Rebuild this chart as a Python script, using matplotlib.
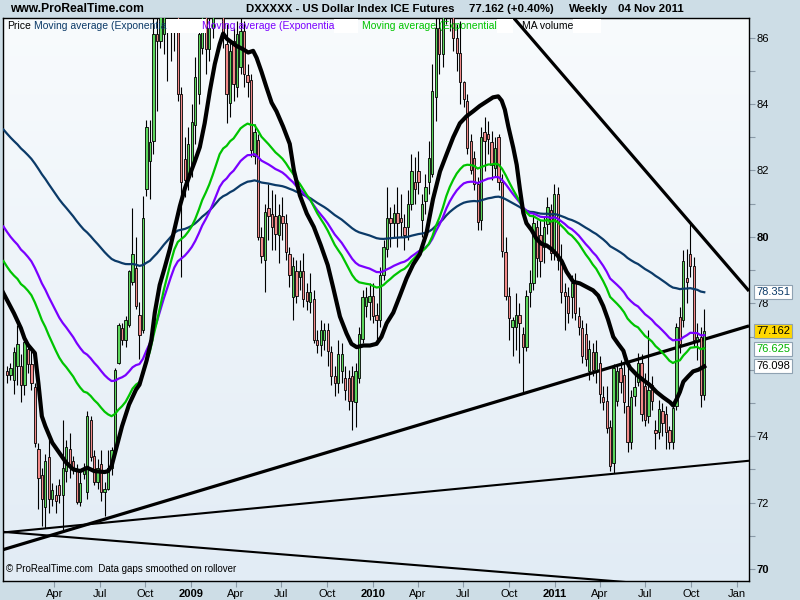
import numpy as np
import pandas as pd
import matplotlib
matplotlib.use("Agg")
import matplotlib.pyplot as plt
import matplotlib.dates as mdates
from matplotlib.colors import LinearSegmentedColormap
from matplotlib.patches import Rectangle
from matplotlib.transforms import blended_transform_factory

plt.rcParams['font.family'] = ['Liberation Sans', 'DejaVu Sans']

# weekly candles, first one dated 28 Dec 2007
opens = [75.95, 75.85, 75.69, 76.11, 76.11, 75.54, 76.63, 76.16, 75.49, 73.62,
         72.84, 71.86, 73.36, 72.12, 72.22, 72.53, 72.22, 72.95, 73.62, 73.26,
         72.95, 72.01, 72.85, 72.32, 74.50, 73.41, 72.63, 73.15, 72.32, 72.42,
         73.05, 73.57, 76.21, 77.25, 76.89, 77.35, 78.65, 79.06, 77.66, 77.20,
         81.45, 82.28, 82.90, 86.10, 85.90, 86.10, 87.80, 87.00, 87.40, 87.30,
         84.30, 82.33, 81.86, 82.17, 83.37, 84.30, 85.70, 86.90, 85.65, 86.30,
         87.50, 88.30, 88.50, 85.80, 84.04, 85.90, 84.50, 85.10, 86.20, 84.87,
         84.73, 82.42, 82.92, 80.01, 79.31, 80.88, 80.70, 80.62, 80.05, 80.62,
         80.41, 79.48, 78.18, 78.96, 78.80, 78.96, 78.34, 78.03, 78.13, 76.89,
         76.73, 76.89, 77.20, 76.52, 75.80, 75.59, 75.95, 75.74, 75.74, 75.80,
         75.02, 75.74, 76.94, 77.92, 78.03, 78.23, 77.66, 77.51, 78.86, 79.64,
         80.57, 80.41, 80.72, 80.57, 80.31, 80.31, 80.98, 81.66, 81.97, 80.52,
         81.09, 81.66, 81.90, 84.20, 86.30, 85.50, 86.70, 88.10, 86.90, 86.00,
         85.55, 84.66, 84.09, 82.90, 82.38, 81.60, 80.50, 83.16, 83.11, 82.85,
         82.07, 83.00, 81.66, 79.53, 78.23, 77.30, 77.30, 77.66, 77.09, 76.68,
         78.34, 78.60, 80.31, 80.05, 79.70, 80.40, 80.80, 79.50, 81.30, 79.27,
         78.34, 78.23, 78.18, 78.65, 77.61, 77.25, 77.09, 75.95, 76.52, 76.00,
         76.21, 75.17, 75.07, 74.29, 73.20, 75.05, 76.06, 75.85, 74.92, 73.83,
         75.22, 75.64, 76.21, 75.50, 74.60, 75.54, 74.19, 74.14, 74.76, 74.66,
         74.19, 73.83, 74.92, 77.60, 77.51, 78.75, 79.48, 79.12, 76.89, 77.00,
         75.23]
highs = [76.10, 76.20, 76.68, 77.35, 76.47, 76.99, 76.80, 76.57, 75.59, 73.78,
         73.05, 73.47, 73.98, 72.60, 72.53, 72.70, 74.50, 73.88, 74.09, 73.40,
         73.15, 73.00, 73.20, 74.76, 74.60, 73.57, 73.30, 73.57, 72.63, 73.57,
         73.67, 76.06, 77.40, 77.40, 77.61, 79.01, 80.88, 80.00, 78.03, 81.24,
         83.52, 83.52, 87.00, 87.00, 88.00, 88.40, 88.50, 88.20, 88.30, 87.60,
         84.50, 83.00, 83.30, 84.00, 85.40, 86.50, 87.40, 87.50, 87.00, 88.20,
         88.80, 89.50, 89.00, 86.40, 85.90, 86.30, 86.50, 86.60, 86.50, 85.20,
         84.90, 83.40, 83.10, 80.30, 81.00, 81.60, 81.40, 81.30, 81.00, 81.20,
         80.70, 79.70, 79.40, 79.30, 79.30, 79.50, 78.60, 78.90, 78.40, 77.20,
         77.50, 77.40, 77.40, 76.70, 76.10, 76.90, 76.80, 76.10, 76.00, 76.10,
         76.20, 77.30, 78.40, 78.50, 78.60, 78.60, 78.00, 79.10, 79.90, 81.50,
         80.90, 81.00, 81.50, 81.30, 80.70, 81.40, 82.50, 82.40, 82.60, 81.30,
         81.90, 82.90, 85.20, 86.90, 87.00, 87.20, 88.80, 88.50, 87.30, 86.40,
         86.50, 84.70, 84.30, 83.10, 82.60, 81.80, 83.30, 83.60, 83.50, 83.20,
         83.00, 83.10, 81.90, 79.99, 78.50, 77.60, 78.30, 78.00, 77.30, 78.40,
         79.00, 80.70, 80.50, 80.50, 80.60, 81.20, 81.00, 81.60, 81.50, 79.80,
         78.60, 78.50, 78.86, 78.90, 77.90, 77.50, 77.40, 76.90, 76.80, 76.90,
         76.40, 75.50, 75.50, 74.50, 76.16, 76.16, 76.30, 76.20, 76.16, 75.40,
         75.90, 76.50, 76.47, 75.90, 77.20, 75.80, 74.50, 75.10, 75.00, 74.90,
         74.30, 75.00, 77.40, 77.90, 79.60, 79.63, 80.41, 79.40, 77.40, 77.30,
         77.82]
lows = [75.60, 75.70, 75.27, 75.54, 75.02, 75.23, 75.90, 75.38, 73.67, 71.80,
        71.29, 71.23, 71.70, 71.90, 71.70, 72.00, 71.18, 72.63, 72.74, 72.85,
        71.96, 71.90, 72.70, 72.11, 73.26, 72.53, 72.40, 72.06, 71.60, 72.37,
        72.84, 73.46, 76.16, 76.73, 76.68, 77.30, 78.54, 77.82, 76.32, 77.10,
        81.24, 81.14, 82.50, 83.80, 85.70, 85.50, 84.70, 85.30, 85.60, 84.10,
        78.80, 81.20, 81.40, 81.80, 82.80, 84.00, 85.50, 84.90, 85.30, 86.00,
        87.00, 87.40, 85.70, 83.42, 83.60, 84.10, 84.20, 84.90, 84.50, 84.20,
        82.40, 82.20, 79.90, 79.20, 78.34, 79.90, 79.60, 79.60, 79.20, 79.90,
        79.30, 78.50, 77.51, 78.00, 78.40, 77.90, 77.80, 77.70, 76.80, 76.50,
        76.40, 76.60, 76.10, 75.54, 75.20, 75.30, 75.60, 75.10, 74.80, 74.19,
        74.29, 75.60, 76.80, 77.60, 77.50, 77.40, 76.90, 77.30, 78.70, 79.40,
        79.70, 80.00, 79.70, 80.00, 79.60, 79.90, 80.80, 81.00, 81.30, 80.00,
        80.70, 81.30, 81.80, 83.50, 84.90, 85.10, 86.40, 86.20, 85.60, 85.00,
        84.00, 83.90, 82.50, 81.90, 81.40, 80.20, 80.20, 81.97, 82.50, 81.70,
        81.80, 81.40, 79.40, 78.10, 76.90, 76.42, 76.60, 76.20, 75.33, 76.57,
        77.90, 78.40, 78.80, 78.80, 79.20, 80.10, 79.30, 79.30, 79.00, 78.00,
        77.20, 77.40, 77.56, 77.50, 77.04, 76.20, 76.10, 75.70, 75.80, 75.60,
        75.00, 74.80, 74.10, 72.95, 72.90, 74.90, 75.30, 74.70, 73.52, 73.60,
        74.90, 75.50, 74.45, 74.30, 74.40, 74.80, 73.62, 73.90, 74.00, 73.60,
        73.60, 73.60, 74.80, 76.50, 77.30, 78.00, 78.80, 76.68, 76.30, 74.88,
        75.10]
closes = [75.85, 76.05, 76.52, 76.78, 75.54, 76.83, 76.16, 75.59, 73.78, 72.74,
          72.12, 73.26, 72.12, 72.37, 72.06, 72.22, 73.05, 73.67, 73.15, 73.05,
          72.01, 72.60, 73.00, 74.60, 73.36, 72.63, 73.05, 72.32, 72.42, 73.05,
          73.57, 76.00, 77.35, 76.89, 77.51, 78.96, 79.48, 77.92, 77.04, 80.57,
          83.31, 82.85, 86.12, 85.90, 87.20, 87.80, 87.00, 87.40, 86.90, 84.30,
          81.66, 81.71, 82.80, 83.47, 84.82, 86.12, 86.90, 85.65, 86.30, 87.50,
          88.30, 88.60, 86.00, 84.30, 85.60, 84.60, 86.10, 86.20, 84.90, 84.66,
          82.62, 83.17, 80.01, 79.41, 80.75, 80.62, 80.30, 80.10, 80.67, 80.41,
          79.53, 78.86, 79.12, 78.23, 78.96, 78.13, 78.08, 78.34, 76.89, 76.73,
          77.20, 77.20, 76.57, 75.80, 75.59, 76.47, 76.47, 75.38, 75.07, 75.07,
          75.95, 77.09, 78.18, 78.18, 78.23, 77.61, 77.51, 78.86, 79.69, 80.57,
          80.41, 80.72, 80.41, 80.46, 80.05, 80.98, 81.97, 81.45, 81.66, 80.98,
          81.50, 82.38, 84.40, 86.30, 85.50, 86.70, 88.10, 86.90, 86.00, 85.55,
          84.66, 84.15, 82.69, 82.02, 81.60, 80.46, 83.00, 82.90, 82.95, 82.17,
          82.69, 81.66, 79.58, 78.23, 77.56, 77.51, 77.66, 77.40, 76.68, 78.23,
          78.60, 80.41, 79.37, 79.27, 80.30, 80.90, 79.50, 81.30, 79.30, 78.34,
          78.23, 77.70, 78.60, 77.72, 77.30, 76.42, 76.32, 76.63, 76.00, 76.52,
          75.28, 75.02, 74.24, 73.10, 76.06, 75.95, 75.64, 75.02, 73.83, 75.17,
          75.49, 76.21, 74.66, 74.50, 75.40, 75.07, 74.09, 74.81, 74.40, 74.14,
          73.83, 74.86, 77.30, 76.78, 79.27, 78.65, 79.12, 76.89, 77.00, 75.23,
          77.16]

# exponential averages: span and value at the left edge (week -1)
ema_spans = [120, 55, 40]
ema_seeds = [83.23, 80.31, 79.27]
ema_colors = ['#0b3a68', '#7a00ff', '#00c400']

# volume MA (black): week index / value
black_week = [-1.2, 0, 2, 4, 5, 6, 8, 9, 10, 11, 13, 15, 17, 19, 21, 23, 25, 28,
              29, 30, 31, 33, 35, 37, 38, 40, 41.4, 42.4, 43.8, 45.2, 46.7, 48.1,
              49.6, 51, 52.4, 53.9, 55.3, 56.7, 58.2, 59.6, 61, 62, 63.1, 64.4,
              65.8, 67.7, 69.2, 70.6, 71.6, 73, 74.4, 75.9, 77.3, 79.2, 81.1,
              82.3, 84, 86, 88, 90, 92, 93.5, 95.5, 97.4, 98.8, 100.3, 102.2,
              104.1, 106, 107.4, 108.9, 110.8, 112.7, 114.6, 116.5, 118.4, 120.3,
              122.2, 124.2, 126.1, 128, 129.9, 131.8, 133.7, 135.6, 137.5, 139.4,
              140.9, 141.9, 142.8, 143.8, 145.2, 146.2, 147.1, 148.1, 149, 150.5,
              151.9, 153.3, 154.8, 156.2, 157.6, 159.1, 160.5, 162.4, 164.3,
              166.3, 168.1, 169.6, 171, 172.4, 173.9, 175.3, 176.8, 177.7, 178.7,
              180.6, 182.5, 184.4, 186.3, 188.2, 190.2, 191.1, 192.1, 193, 194,
              195.4, 196.8, 198.3, 200]
black_value = [78.34, 78.10, 77.70, 77.25, 76.95, 76.75, 76.50, 75.60, 74.60,
               74.30, 73.80, 73.50, 73.20, 73.00, 72.95, 73.05, 72.95, 72.92,
               72.95, 73.10, 73.50, 74.30, 74.95, 75.40, 75.55, 76.26, 76.89,
               77.72, 78.55, 79.06, 79.63, 80.26, 80.93, 81.45, 81.86, 82.28,
               82.70, 83.42, 84.40, 85.20, 85.80, 86.12, 85.96, 85.86, 85.75,
               85.65, 85.55, 85.60, 85.39, 84.97, 84.51, 84.04, 83.78, 83.32,
               82.80, 82.00, 81.25, 80.70, 80.30, 79.75, 79.15, 78.50, 77.60,
               77.09, 76.78, 76.68, 76.73, 76.73, 76.78, 76.99, 77.40, 77.72,
               78.23, 78.75, 79.17, 79.48, 80.10, 81.14, 81.97, 82.49, 83.00,
               83.42, 83.63, 83.78, 83.94, 84.07, 84.20, 84.23, 84.10, 83.83,
               83.32, 82.69, 82.17, 81.45, 80.72, 80.41, 80.20, 79.94, 79.79,
               79.74, 79.63, 79.48, 79.27, 78.95, 78.65, 78.60, 78.49, 78.39,
               78.23, 77.92, 77.51, 76.99, 76.78, 76.57, 76.26, 76.06, 75.85,
               75.69, 75.54, 75.33, 75.17, 75.02, 74.92, 75.12, 75.33, 75.64,
               75.80, 75.95, 76.00, 76.098]

# trend lines: (week, price) at both ends
trend_lines = {
    'thick_up': ([-1.23, 212.83], [70.58, 77.32], 2.3),
    'thin_up': ([-1.23, 212.83], [71.10, 73.26], 1.5),
    'thin_down': ([-1.23, 212.83], [71.12, 69.31], 1.5),
    'thick_down': ([145.4, 212.83], [86.585, 78.37], 2.3),
}

last_labels = ['78.351', '77.162', '76.625', '76.098']
last_label_colors = ['#0b3a68', 'black', '#00b400', 'black']
last_label_bg = ['white', '#ffd700', 'white', 'white']

price_ticks = [70, 72, 74, 76, 78, 80, 82, 84, 86]
price_labels = ['70', '72', '74', '', '78', '80', '82', '84', '86']
month_ticks = ['2008-04-01', '2008-07-01', '2008-10-01', '2009-01-01',
               '2009-04-01', '2009-07-01', '2009-10-01', '2010-01-01',
               '2010-04-01', '2010-07-01', '2010-10-01', '2011-01-01',
               '2011-04-01', '2011-07-01', '2011-10-01', '2012-01-01']
month_labels = ['Apr', 'Jul', 'Oct', '2009', 'Apr', 'Jul', 'Oct', '2010',
                'Apr', 'Jul', 'Oct', '2011', 'Apr', 'Jul', 'Oct', 'Jan']

base = mdates.date2num(pd.Timestamp('2007-12-28'))


def wk(w):
    return base + 7 * np.asarray(w, dtype=float)


o = np.array(opens)
h = np.array(highs)
l = np.array(lows)
c = np.array(closes)
x = wk(np.arange(len(c)))

bg = '#cddde6'
fig = plt.figure(figsize=(8, 6), dpi=100, facecolor=bg)
ax = fig.add_axes([2.7 / 800, 1 - 581 / 600, 746.3 / 800, 562.7 / 600])
x0, x1 = wk(-1.23), wk(212.83)
y0, y1 = 69.64, 86.58
ax.set_xlim(x0, x1)
ax.set_ylim(y0, y1)

grad = LinearSegmentedColormap.from_list('g', ['#f8fbfd', '#e2ecf5'])
ax.imshow(np.linspace(0, 1, 256).reshape(-1, 1), cmap=grad, aspect='auto',
          extent=[x0, x1, y0, y1], origin='upper', zorder=0)

# trend lines
for name, (tw, tp, lw) in trend_lines.items():
    ax.plot(wk(tw), tp, color='black', lw=lw, zorder=2, solid_capstyle='butt')

# candles
ax.vlines(x, l, h, color='black', lw=0.8, zorder=3)
up = c >= o
body = np.where(np.abs(c - o) < 0.04, 0.04, c - o)
ax.bar(x[up], body[up], bottom=o[up], width=4.6, color='#5cd65c',
       edgecolor='black', lw=0.6, zorder=4)
ax.bar(x[~up], body[~up], bottom=o[~up], width=4.6, color='#f28a8a',
       edgecolor='black', lw=0.6, zorder=4)

# moving averages
for span, seed, col in zip(ema_spans, ema_seeds, ema_colors):
    s = pd.Series([seed] + closes).ewm(span=span, adjust=False).mean()
    ax.plot(wk(np.arange(-1, len(c))), s.values, color=col, lw=1.6, zorder=5)
ax.plot(wk(black_week), black_value, color='black', lw=3.0, zorder=6,
        solid_joinstyle='round')

# axes styling
for sp in ax.spines.values():
    sp.set_color('black')
    sp.set_linewidth(1.0)
ax.yaxis.tick_right()
ax.set_yticks(price_ticks)
ax.set_yticks([71, 73, 75, 77, 79, 81, 83, 85], minor=True)
ax.set_yticklabels(price_labels)
for lbl in ax.get_yticklabels():
    if lbl.get_text() in ('70', '80'):
        lbl.set_fontweight('bold')
ax.tick_params(axis='y', which='both', length=4, width=0.8, color='#8a9aa8',
               labelsize=8, pad=1.5)
ax.set_xticks(mdates.date2num(pd.to_datetime(month_ticks)))
ax.set_xticklabels(month_labels)
for lbl in ax.get_xticklabels():
    if lbl.get_text().isdigit():
        lbl.set_fontweight('bold')
        lbl.set_fontsize(9)
ax.tick_params(axis='x', length=4, width=0.8, color='#8a9aa8', labelsize=8,
               pad=1.5)

# last value boxes
tr = blended_transform_factory(fig.transFigure, ax.transData)
for txt, col, fc in zip(last_labels, last_label_colors, last_label_bg):
    ax.text(756 / 800, float(txt), txt, transform=tr, color=col, fontsize=8,
            va='center', ha='left', zorder=10, clip_on=False,
            bbox=dict(boxstyle='square,pad=0.18', fc=fc, ec='#8fa2b2', lw=0.8))

# header
fig.text(10 / 800, 1 - 9 / 600, 'www.ProRealTime.com', fontsize=8.7,
         fontweight='bold', va='center', ha='left')
head = [(246, 'DXXXXX - US Dollar Index ICE Futures'), (469, '77.162 (+0.40%)'),
        (569, 'Weekly'), (618, '04 Nov 2011')]
for px, txt in head:
    fig.text(px / 800, 1 - 9 / 600, txt, fontsize=8.2, fontweight='bold',
             va='center', ha='left')

# legend line
leg = [(7, 'Price', 'black', 0), (34, 'Moving average (Exponentia', '#0b3a68', 40),
       (202, 'Moving average (Exponentia', '#7a00ff', 24),
       (362, 'Moving average (Exponential', '#00c400', 16),
       (522, 'MA volume', 'black', 28)]
for px, txt, col, gap in leg:
    fig.text(px / 800, 1 - 26 / 600, txt, fontsize=7.5, color=col,
             va='center', ha='left', zorder=20)
fig.canvas.draw()
rend = fig.canvas.get_renderer()
for t, (px, txt, col, gap) in zip(fig.texts[-5:], leg):
    if gap:
        bb = t.get_window_extent(rend)
        fig.add_artist(Rectangle((bb.x1 / 800, 1 - 33 / 600), gap / 800, 14 / 600,
                                 transform=fig.transFigure, fc='white',
                                 ec='none', zorder=15))

ax.text(0.004, 0.012, '\u00a9 ProRealTime.com  Data gaps smoothed on rollover',
        transform=ax.transAxes, fontsize=7, va='bottom', ha='left', zorder=20)

fig.savefig('out.png', dpi=100, facecolor=bg)
